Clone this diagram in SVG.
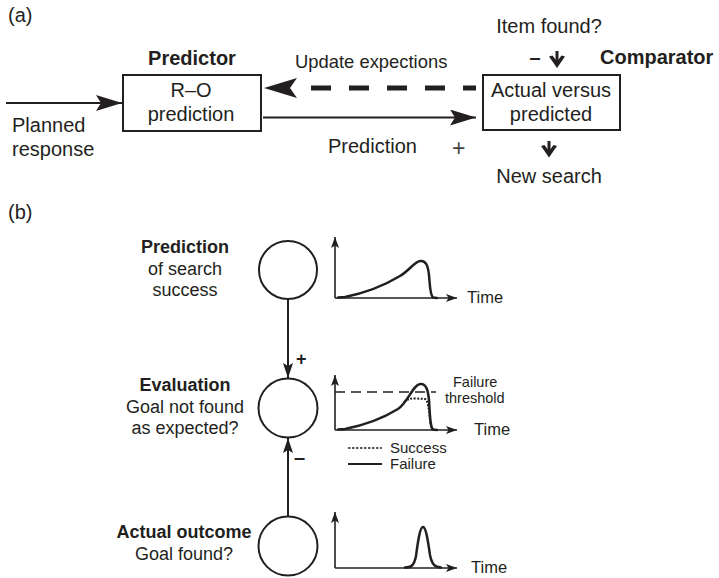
<svg xmlns="http://www.w3.org/2000/svg" width="719" height="578" viewBox="0 0 719 578">
<style>
text{font-family:"Liberation Sans",Arial,sans-serif;fill:#231f20}
.t20{font-size:20px}
.t18{font-size:18px}
.t15{font-size:15px}
.b{font-weight:bold}
.mid{text-anchor:middle}
.box{fill:#fff;stroke:#231f20;stroke-width:2}
.circ{fill:#fff;stroke:#231f20;stroke-width:2}
.ln{fill:none;stroke:#231f20;stroke-width:2}
.ax{fill:none;stroke:#231f20;stroke-width:1.6}
.crv{fill:none;stroke:#231f20;stroke-width:2.5;stroke-linejoin:round;stroke-linecap:round}
.hd{fill:#231f20;stroke:none}
</style>
<defs>
<marker id="arrBig" markerUnits="userSpaceOnUse" viewBox="0 0 26 16" markerWidth="26" markerHeight="16" refX="26" refY="8" orient="auto">
<path d="M0,0 L26,8 L0,16 L5,8 z" fill="#231f20"/>
</marker>
<marker id="arrMid" markerUnits="userSpaceOnUse" viewBox="0 0 15 10" markerWidth="15" markerHeight="10" refX="15" refY="5" orient="auto">
<path d="M0,0 L15,5 L0,10 L3,5 z" fill="#231f20"/>
</marker>
<marker id="arrAx" markerUnits="userSpaceOnUse" viewBox="0 0 11 8" markerWidth="11" markerHeight="8" refX="11" refY="4" orient="auto">
<path d="M0,0 L11,4 L0,8 L2.5,4 z" fill="#231f20"/>
</marker>
</defs>

<!-- panel labels -->
<text class="t20" x="8" y="22">(a)</text>
<text class="t20" x="8" y="219">(b)</text>

<!-- connectors -->
<g id="connectors">
<line class="ln" x1="6" y1="103" x2="122" y2="103" marker-end="url(#arrBig)"/>
<line class="ln" x1="263" y1="117.5" x2="476" y2="117.5" marker-end="url(#arrBig)"/>
<path d="M476,88 L293,88" fill="none" stroke="#231f20" stroke-width="5" stroke-dasharray="20 18" stroke-dashoffset="7"/>
<path class="hd" d="M264,88 L297,78 L290,88 L297,98 z"/>
<!-- small down arrows at comparator -->
<rect class="hd" x="555.5" y="51" width="3" height="11"/>
<path class="hd" d="M549,56.5 L552.5,55.5 L557,61.5 L561.5,55.5 L565,56.5 L557,68 z"/>
<rect class="hd" x="547.5" y="141" width="3" height="10"/>
<path class="hd" d="M541,146 L544.5,145 L549,151 L553.5,145 L557,146 L549,157.5 z"/>
<!-- vertical connectors panel b -->
<line class="ln" x1="288" y1="299" x2="288" y2="378" marker-end="url(#arrMid)"/>
<line class="ln" x1="288" y1="516" x2="288" y2="438" marker-end="url(#arrMid)"/>
</g>

<!-- Predictor node -->
<g id="predictor">
<text class="t20 b mid" x="192" y="65">Predictor</text>
<rect class="box" x="123" y="75" width="138" height="56"/>
<text class="t20 mid" x="191" y="97">R–O</text>
<text class="t20 mid" x="191" y="121">prediction</text>
</g>

<!-- Comparator node -->
<g id="comparator">
<text class="t20 b" x="600" y="64">Comparator</text>
<rect class="box" x="483" y="75" width="137" height="55"/>
<text class="t20 mid" x="551" y="97">Actual versus</text>
<text class="t20 mid" x="551" y="121">predicted</text>
</g>

<g id="labels-a">
<text class="t20" x="12" y="132">Planned</text>
<text class="t20" x="12" y="156">response</text>
<text style="font-size:18.4px" x="295" y="68">Update expections</text>
<text class="t20" x="328" y="153">Prediction</text>
<text style="font-size:23px;fill:#444" x="452" y="156">+</text>
<text class="t20 mid" x="549" y="33">Item found?</text>
<text class="t20 b mid" x="535" y="64">–</text>
<text class="t20 mid" x="549" y="183">New search</text>
</g>

<!-- Prediction node -->
<g id="prediction-node">
<text class="t18 b mid" x="185" y="253">Prediction</text>
<text class="t18 mid" x="185" y="275">of search</text>
<text class="t18 mid" x="185" y="296">success</text>
<circle class="circ" cx="288" cy="270" r="29"/>
<line class="ax" x1="335" y1="298" x2="335" y2="237" marker-end="url(#arrAx)"/>
<line class="ax" x1="335" y1="298" x2="457" y2="298" marker-end="url(#arrAx)"/>
<path class="crv" d="M338,297.5 L345,297 C365,293 385,285 400,276 C410,270 414,262 420,261 C426,260 428,266 429,275 C430,286 430,295 433,297.5 L437,298"/>
<text style="font-size:16.5px" x="467" y="303">Time</text>
</g>

<!-- Evaluation node -->
<g id="evaluation-node">
<text class="t18 b mid" x="185" y="391">Evaluation</text>
<text class="t18 mid" x="185" y="413">Goal not found</text>
<text class="t18 mid" x="185" y="434">as expected?</text>
<circle class="circ" cx="288" cy="408" r="29.5"/>
<text class="t18 b" x="296" y="365">+</text>
<text class="b" style="font-size:20px" x="294" y="464">–</text>
<line class="ax" x1="335" y1="430" x2="335" y2="375" marker-end="url(#arrAx)"/>
<line class="ax" x1="335" y1="430" x2="457" y2="430" marker-end="url(#arrAx)"/>
<line x1="335" y1="392" x2="436" y2="392" stroke="#231f20" stroke-width="1.5" stroke-dasharray="10 6"/>
<path class="crv" d="M338,429.5 L345,429 C365,425 385,417 398,409 C408,402 413,385 420,384 C426,383 428,390 429,400 C430,415 430,427 433,429.5 L437,430"/>
<path d="M404,402 C408,399 411,398 416,398.5 L425,399 C428,400 429,410 430,420 C431,428 432,430 436,430" fill="none" stroke="#231f20" stroke-width="2" stroke-dasharray="2 1.5"/>
<text style="font-size:14.5px" x="453" y="386.5">Failure</text>
<text style="font-size:14.5px" x="445" y="402.5">threshold</text>
<text style="font-size:16.5px" x="474" y="435">Time</text>
<line x1="348" y1="448" x2="382" y2="448" stroke="#231f20" stroke-width="1.6" stroke-dasharray="2.5 1.5"/>
<text class="t15" x="390" y="453">Success</text>
<line x1="348" y1="464" x2="382" y2="464" stroke="#231f20" stroke-width="2"/>
<text class="t15" x="390" y="469">Failure</text>
</g>

<!-- Actual outcome node -->
<g id="actual-outcome-node">
<text class="t18 b mid" x="184" y="538">Actual outcome</text>
<text class="t18 mid" x="184" y="560">Goal found?</text>
<circle class="circ" cx="288" cy="546" r="29.5"/>
<line class="ax" x1="335" y1="568" x2="335" y2="512" marker-end="url(#arrAx)"/>
<line class="ax" x1="335" y1="568" x2="457" y2="568" marker-end="url(#arrAx)"/>
<path class="crv" d="M405,567.5 C411,567.5 414,566 416,556 C418,541 420,527 423,527 C426,527 428,541 430,555 C432,565 435,567 441,567.5"/>
<text style="font-size:16.5px" x="471" y="573">Time</text>
</g>
</svg>
